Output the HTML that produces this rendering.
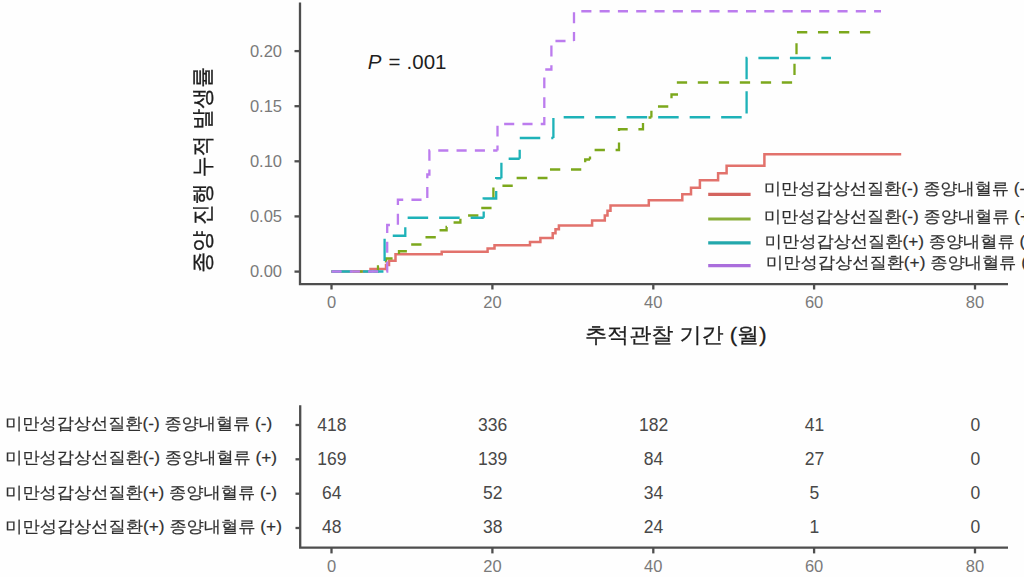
<!DOCTYPE html>
<html><head><meta charset="utf-8"><title>Cumulative incidence</title>
<style>html,body{margin:0;padding:0;background:#fefefe;width:1024px;height:577px;overflow:hidden}svg{display:block}</style>
</head><body>
<svg width="1024" height="577" viewBox="0 0 1024 577"><rect width="1024" height="577" fill="#fefefe"/><g stroke="#4e4e4e" stroke-width="2.3" fill="none"><path d="M300,2.5 V284.2 H1008"/><path d="M294.5,51.1 H300"/><path d="M294.5,106.2 H300"/><path d="M294.5,161.3 H300"/><path d="M294.5,216.4 H300"/><path d="M294.5,271.6 H300"/><path d="M331.5,284 V289.5"/><path d="M492.4,284 V289.5"/><path d="M653.3,284 V289.5"/><path d="M814.1,284 V289.5"/><path d="M975.0,284 V289.5"/></g><g fill="#7a7a7a" font-family="'Liberation Sans','WenQuanYi Zen Hei',sans-serif" font-size="16.5" text-anchor="end"><text x="282" y="56.9">0.20</text><text x="282" y="112.0">0.15</text><text x="282" y="167.1">0.10</text><text x="282" y="222.2">0.05</text><text x="282" y="277.4">0.00</text></g><g fill="#7a7a7a" font-family="'Liberation Sans','WenQuanYi Zen Hei',sans-serif" font-size="16.5" text-anchor="middle"><text x="331.5" y="307.6">0</text><text x="492.4" y="307.6">20</text><text x="653.3" y="307.6">40</text><text x="814.1" y="307.6">60</text><text x="975.0" y="307.6">80</text></g><g fill="none" stroke-width="2.5" stroke-linejoin="miter"><path d="M331.5,271.6 H370.5 V269.0 H386.0 V265.0 H389.0 V260.8 H395.5 V254.3 H441.7 V251.8 H487.6 V248.4 H494.5 V245.3 H530.0 V242.0 H540.4 V238.1 H552.7 V233.2 H555.5 V229.3 H558.9 V225.4 H592.1 V220.5 H604.8 V215.6 H607.5 V210.7 H610.5 V205.4 H648.8 V200.2 H682.3 V194.2 H691.0 V187.8 H699.9 V180.3 H718.1 V173.3 H726.6 V165.7 H764.4 V154.2 H901.2" stroke="#E2726C"/><g transform="scale(1,1.08)" stroke-width="2.31"><path d="M331.5,251.5 L378.0,251.5 L378.0,246.8 L386.0,246.8 L386.0,239.4 L399.0,239.4 L399.0,232.7 L408.0,232.7 L408.0,226.3 L423.0,226.3 L423.0,219.6 L437.0,219.6" stroke="#7CA81C" stroke-dasharray="10.3 10.7" stroke-dashoffset="0.11"/><path d="M437.0,219.6 L437.0,213.1 L446.6,213.1 L446.6,210.2 L450.0,210.2 L450.0,206.1 L460.4,206.1 L460.4,199.6 L479.0,199.6" stroke="#7CA81C" stroke-dasharray="10.3 10.7" stroke-dashoffset="11.92"/><path d="M479.0,199.6 L479.0,192.7 L493.4,192.7 L493.4,171.9 L513.5,171.9" stroke="#7CA81C" stroke-dasharray="10.3 10.7" stroke-dashoffset="11.86"/><path d="M513.5,171.9 L513.5,164.8 L547.5,164.8" stroke="#7CA81C" stroke-dasharray="10.3 10.7" stroke-dashoffset="10.77"/><path d="M547.5,164.8 L547.5,156.9 L585.2,156.9 L585.2,147.6 L590.0,147.6" stroke="#7CA81C" stroke-dasharray="10.3 10.7" stroke-dashoffset="10.64"/><path d="M590.0,147.6 L590.0,138.9 L619.0,138.9 L619.0,119.7 L643.0,119.7 L643.0,108.8 L651.4,108.8" stroke="#7CA81C" stroke-dasharray="10.3 10.7" stroke-dashoffset="7.70"/><path d="M651.4,108.8 L651.4,98.5 L671.5,98.5 L671.5,87.5 L678.0,87.5" stroke="#7CA81C" stroke-dasharray="10.3 10.7" stroke-dashoffset="4.12"/><path d="M678.0,87.5 L678.0,76.4 L794.5,76.4" stroke="#7CA81C" stroke-dasharray="10.3 10.7" stroke-dashoffset="11.09"/><path d="M794.5,76.4 L794.5,53.2 L796.5,53.2 L796.5,29.8 L870.5,29.8" stroke="#7CA81C" stroke-dasharray="10.3 10.7" stroke-dashoffset="13.93"/></g><g transform="scale(1,1.08)" stroke-width="2.31"><path d="M331.5,251.5 L384.6,251.5 L384.6,218.3 L405.3,218.3 L405.3,201.7 L483.7,201.7" stroke="#1EB2B8" stroke-dasharray="20.5 11.0" stroke-dashoffset="0.05"/><path d="M483.7,201.7 L483.7,183.8 L496.2,183.8 L496.2,165.0 L501.4,165.0" stroke="#1EB2B8" stroke-dasharray="20.5 11.0" stroke-dashoffset="14.56"/><path d="M501.4,165.0 L501.4,147.0 L519.7,147.0" stroke="#1EB2B8" stroke-dasharray="20.5 11.0" stroke-dashoffset="6.24"/><path d="M519.7,147.0 L519.7,127.8 L553.4,127.8" stroke="#1EB2B8" stroke-dasharray="20.5 11.0" stroke-dashoffset="12.24"/><path d="M553.4,127.8 L553.4,108.6 L746.6,108.6" stroke="#1EB2B8" stroke-dasharray="20.5 11.0" stroke-dashoffset="2.03"/><path d="M746.6,108.6 L746.6,53.8 L831.0,53.8" stroke="#1EB2B8" stroke-dasharray="20.5 11.0" stroke-dashoffset="27.89"/></g><g transform="scale(1,1.08)" stroke-width="2.31"><path d="M331.5,251.5 L387.2,251.5 L387.2,208.3 L397.9,208.3 L397.9,185.0 L427.3,185.0" stroke="#BC7CEE" stroke-dasharray="10.1 8.2" stroke-dashoffset="18.27"/><path d="M427.3,185.0 L427.3,161.6 L429.4,161.6 L429.4,139.4 L497.5,139.4" stroke="#BC7CEE" stroke-dasharray="10.1 8.2" stroke-dashoffset="16.65"/><path d="M497.5,139.4 L497.5,114.8 L544.3,114.8 L544.3,64.4 L551.4,64.4 L551.4,38.0 L574.0,38.0" stroke="#BC7CEE" stroke-dasharray="10.1 8.2" stroke-dashoffset="5.36"/><path d="M574.0,38.0 L574.0,10.5 L881.0,10.5" stroke="#BC7CEE" stroke-dasharray="10.1 8.2" stroke-dashoffset="1.80"/></g></g><text y="69.4" font-family="'Liberation Sans','WenQuanYi Zen Hei',sans-serif" font-size="20.5" fill="#1e1e1e"><tspan x="367.8" font-style="italic">P</tspan><tspan x="388.6">=</tspan><tspan x="406.6">.001</tspan></text><text transform="translate(209.7,169.8) rotate(-90)" text-anchor="middle" font-family="'Liberation Sans','WenQuanYi Zen Hei',sans-serif" font-size="22.5" fill="#1e1e1e" stroke="#1e1e1e" stroke-width="0.3" textLength="206" lengthAdjust="spacingAndGlyphs">종양 진행 누적 발생률</text><text x="585" y="342.0" font-family="'Liberation Sans','WenQuanYi Zen Hei',sans-serif" font-size="21" fill="#1e1e1e" stroke="#1e1e1e" stroke-width="0.3" textLength="181.5" lengthAdjust="spacingAndGlyphs">추적관찰 기간 (월)</text><path d="M708.2,194.3 H750.6" stroke="#D4645F" stroke-width="3.2"/><text x="763.9" y="194.1" font-family="'Liberation Sans','WenQuanYi Zen Hei',sans-serif" font-size="16.3" fill="#303030" stroke="#303030" stroke-width="0.2" textLength="267.0" lengthAdjust="spacingAndGlyphs">미만성갑상선질환(-) 종양내혈류 (-)</text><path d="M708.2,219.0 H750.6" stroke="#8AAE3A" stroke-width="3.2"/><text x="763.9" y="221.8" font-family="'Liberation Sans','WenQuanYi Zen Hei',sans-serif" font-size="16.3" fill="#303030" stroke="#303030" stroke-width="0.2" textLength="271.9" lengthAdjust="spacingAndGlyphs">미만성갑상선질환(-) 종양내혈류 (+)</text><path d="M708.2,242.9 H750.6" stroke="#23A8AC" stroke-width="3.2"/><text x="764.8" y="246.9" font-family="'Liberation Sans','WenQuanYi Zen Hei',sans-serif" font-size="16.3" fill="#303030" stroke="#303030" stroke-width="0.2" textLength="271.9" lengthAdjust="spacingAndGlyphs">미만성갑상선질환(+) 종양내혈류 (-)</text><path d="M708.2,265.7 H750.6" stroke="#AA6EDC" stroke-width="3.2"/><text x="766.0" y="267.7" font-family="'Liberation Sans','WenQuanYi Zen Hei',sans-serif" font-size="16.3" fill="#303030" stroke="#303030" stroke-width="0.2" textLength="276.7" lengthAdjust="spacingAndGlyphs">미만성갑상선질환(+) 종양내혈류 (+)</text><g stroke="#4e4e4e" stroke-width="2.3" fill="none"><path d="M300.2,405.2 V547.6 H1008"/><path d="M295.5,425.0 H300"/><path d="M295.5,459.3 H300"/><path d="M295.5,493.7 H300"/><path d="M295.5,528.0 H300"/><path d="M331.5,547.5 V553.4"/><path d="M492.4,547.5 V553.4"/><path d="M653.3,547.5 V553.4"/><path d="M814.1,547.5 V553.4"/><path d="M975.0,547.5 V553.4"/></g><g font-family="'Liberation Sans','WenQuanYi Zen Hei',sans-serif" font-size="16.3" fill="#303030" stroke="#303030" stroke-width="0.2"><text x="5.2" y="428.8" textLength="267.0" lengthAdjust="spacingAndGlyphs">미만성갑상선질환(-) 종양내혈류 (-)</text><text x="5.2" y="463.2" textLength="271.9" lengthAdjust="spacingAndGlyphs">미만성갑상선질환(-) 종양내혈류 (+)</text><text x="5.2" y="498.2" textLength="271.9" lengthAdjust="spacingAndGlyphs">미만성갑상선질환(+) 종양내혈류 (-)</text><text x="5.2" y="532.4" textLength="276.7" lengthAdjust="spacingAndGlyphs">미만성갑상선질환(+) 종양내혈류 (+)</text></g><g font-family="'Liberation Sans','WenQuanYi Zen Hei',sans-serif" font-size="17.5" fill="#484848" text-anchor="middle"><text x="331.8" y="431.0">418</text><text x="492.7" y="431.0">336</text><text x="653.6" y="431.0">182</text><text x="814.4" y="431.0">41</text><text x="975.3" y="431.0">0</text><text x="331.8" y="464.9">169</text><text x="492.7" y="464.9">139</text><text x="653.6" y="464.9">84</text><text x="814.4" y="464.9">27</text><text x="975.3" y="464.9">0</text><text x="331.8" y="498.7">64</text><text x="492.7" y="498.7">52</text><text x="653.6" y="498.7">34</text><text x="814.4" y="498.7">5</text><text x="975.3" y="498.7">0</text><text x="331.8" y="532.6">48</text><text x="492.7" y="532.6">38</text><text x="653.6" y="532.6">24</text><text x="814.4" y="532.6">1</text><text x="975.3" y="532.6">0</text></g><g fill="#7a7a7a" font-family="'Liberation Sans','WenQuanYi Zen Hei',sans-serif" font-size="16.5" text-anchor="middle"><text x="331.5" y="571.5">0</text><text x="492.4" y="571.5">20</text><text x="653.3" y="571.5">40</text><text x="814.1" y="571.5">60</text><text x="975.0" y="571.5">80</text></g></svg>
</body></html>
